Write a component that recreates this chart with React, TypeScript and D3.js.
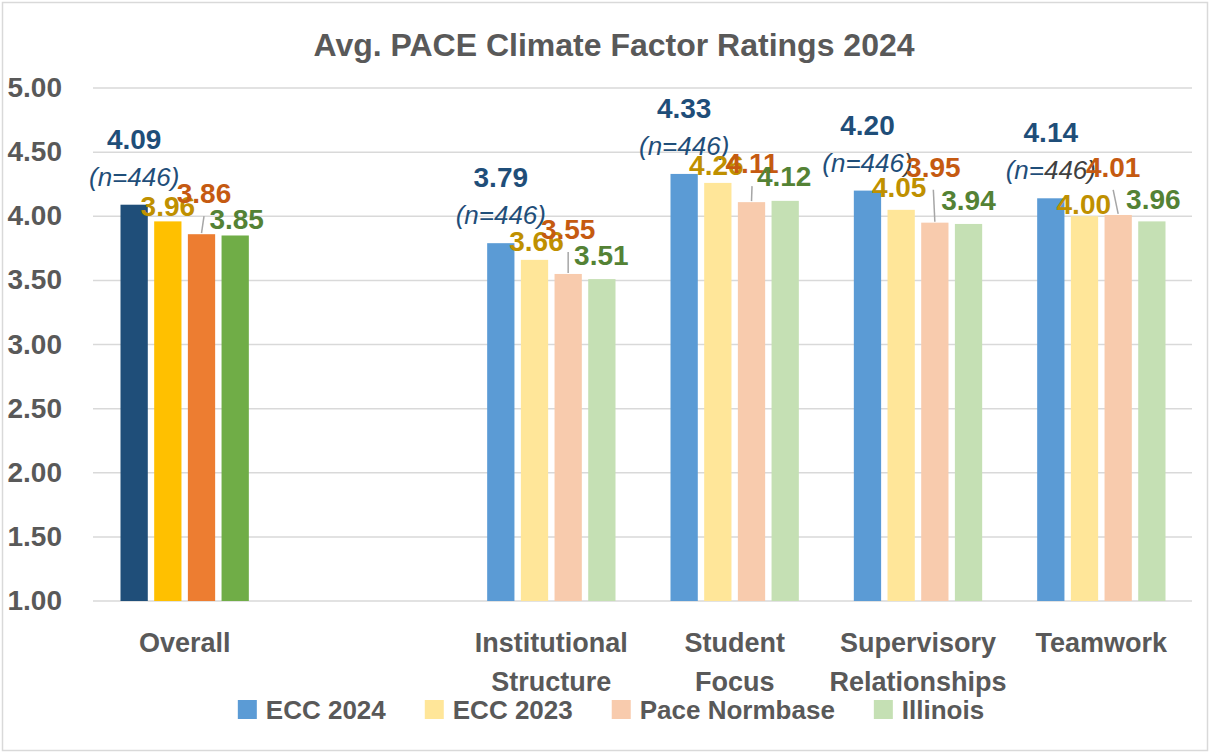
import React from "react";
import * as d3 from "d3";

// chart values
const categories = ["Overall", "", "Institutional Structure", "Student Focus", "Supervisory Relationships", "Teamwork"];
const seriesNames = ["ECC 2024", "ECC 2023", "Pace Normbase", "Illinois"];
const ecc2024 = [4.09, null, 3.79, 4.33, 4.2, 4.14];
const ecc2023 = [3.96, null, 3.66, 4.26, 4.05, 4.0];
const paceNormbase = [3.86, null, 3.55, 4.11, 3.95, 4.01];
const illinois = [3.85, null, 3.51, 4.12, 3.94, 3.96];
const sampleSize = [446, null, 446, 446, 446, 446];
const yTicks = [1, 1.5, 2, 2.5, 3, 3.5, 4, 4.5, 5];

const seriesValues = [ecc2024, ecc2023, paceNormbase, illinois];

// colours: first group is drawn darker than the others
const overallColors = ["#1F4E79", "#FFC000", "#ED7D31", "#70AD47"];
const lightColors = ["#5B9BD5", "#FFE699", "#F8CBAD", "#C5E0B4"];
const labelColors = ["#1F4E79", "#BF9000", "#C55A11", "#548235"];

// manual label placement (dx, rise above bar top), like the hand-moved excel labels
const labelNudge = [
  [[0, 56], null, [0, 56], [0, 56], [0, 56], [0, 56]],
  [[0, 5], null, [2, 9], [-1.5, 8], [-2, 13], [-0.7, 2]],
  [[2.5, 31], null, [0, 35], [0.5, 29], [-1.5, 46], [-5, 38]],
  [[1.5, 6.5], null, [-0.5, 14.5], [-1, 14.7], [0, 14], [1.5, 12.4]],
];

const W = 1210;
const H = 753;
const FONT = "'Liberation Sans', Arial, sans-serif";
const GRAY = "#595959";

const measure = (text: string, font: string) => {
  const ctx = document.createElement("canvas").getContext("2d");
  if (!ctx) return text.length * 14;
  ctx.font = font;
  return ctx.measureText(text).width;
};

export default function App() {
  const left = 93,
    right = 1193,
    top = 88,
    bottom = 601;

  const x0 = d3
    .scaleBand()
    .domain(categories.map((_, i) => String(i)))
    .range([left, right])
    .paddingInner(0.3)
    .paddingOuter(0.15);

  const x1 = d3
    .scaleBand()
    .domain(seriesNames)
    .range([0, x0.bandwidth()])
    .paddingInner(0.19)
    .paddingOuter(0);

  const y = d3.scaleLinear().domain([1, 5]).range([bottom, top]);

  // legend layout
  const legendFont = `bold 26px ${FONT}`;
  const markerSize = 19;
  const items = seriesNames.map((name) => ({ name, w: measure(name, legendFont) }));
  const totalW = items.reduce((a, it) => a + markerSize + 9 + it.w, 0) + 39 * (items.length - 1);
  let lx = 611 - totalW / 2;
  const legendItems = items.map((it) => {
    const pos = lx;
    lx += markerSize + 9 + it.w + 39;
    return { ...it, x: pos };
  });

  const bars: JSX.Element[] = [];
  const labels: JSX.Element[] = [];

  seriesValues.forEach((vals, s) => {
    vals.forEach((v, c) => {
      if (v == null) return;
      const bx = (x0(String(c)) ?? 0) + (x1(seriesNames[s]) ?? 0);
      const bw = x1.bandwidth();
      const by = y(v);
      bars.push(
        <rect
          key={`b${s}-${c}`}
          x={bx}
          y={by}
          width={bw}
          height={bottom - by}
          fill={c === 0 ? overallColors[s] : lightColors[s]}
        />
      );
      const nudge = labelNudge[s][c] || [0, 6];
      const cx = bx + bw / 2 + nudge[0];
      const base = by - nudge[1];
      if (s === 2) {
        labels.push(
          <line
            key={`ll${c}`}
            x1={bx + bw / 2}
            y1={by - 1}
            x2={cx}
            y2={base + 13}
            stroke="#A6A6A6"
            strokeWidth={1.5}
          />
        );
      }
      labels.push(
        <text
          key={`l${s}-${c}`}
          x={cx}
          y={base}
          textAnchor="middle"
          fontSize={28}
          fontWeight="bold"
          fill={labelColors[s]}
        >
          {d3.format(".2f")(v)}
        </text>
      );
      if (s === 0 && sampleSize[c] != null) {
        const n = `(n=${sampleSize[c]})`;
        // some runs in the original are set in dark gray
        let parts: [string, string][] = [[n, labelColors[0]]];
        if (c === 4) parts = [[n.slice(0, -1), labelColors[0]], [")", "#404040"]];
        if (c === 5) parts = [["(n=", labelColors[0]], [n.slice(3), "#404040"]];
        labels.push(
          <text
            key={`n${c}`}
            x={cx}
            y={by - 19}
            textAnchor="middle"
            fontSize={26}
            fontStyle="italic"
          >
            {parts.map((p, i) => (
              <tspan key={i} fill={p[1]}>
                {p[0]}
              </tspan>
            ))}
          </text>
        );
      }
    });
  });

  // n-labels go under the other labels as in excel
  const nLabels = labels.filter((l) => String(l.key).startsWith("n"));
  const otherLabels = labels.filter((l) => !String(l.key).startsWith("n"));

  return (
    <div style={{ position: "absolute", left: 0, top: 0 }}>
      <svg width={W} height={H} fontFamily={FONT} style={{ display: "block", background: "#fff" }}>
        <rect x={2.5} y={2.5} width={W - 5} height={H - 5} fill="#fff" stroke="#D9D9D9" strokeWidth={1.5} />
        <text x={614} y={56} textAnchor="middle" fontSize={32} fontWeight="bold" fill={GRAY}>
          Avg. PACE Climate Factor Ratings 2024
        </text>

        {yTicks.map((t) => (
          <g key={t}>
            <line x1={left} x2={right - 1} y1={y(t)} y2={y(t)} stroke="#D9D9D9" strokeWidth={1.5} />
            <text x={62} y={y(t) + 9} textAnchor="end" fontSize={28} fontWeight="bold" fill={GRAY}>
              {d3.format(".2f")(t)}
            </text>
          </g>
        ))}

        {bars}
        {nLabels}
        {otherLabels}

        {categories.map((cat, i) => {
          const words = cat.split(" ");
          const cx = (x0(String(i)) ?? 0) + x0.bandwidth() / 2;
          return (
            <text key={`c${i}`} x={cx} y={652} textAnchor="middle" fontSize={27} fontWeight="bold" fill={GRAY}>
              {words.map((w, j) => (
                <tspan key={j} x={cx} dy={j === 0 ? 0 : 39}>
                  {w}
                </tspan>
              ))}
            </text>
          );
        })}

        {legendItems.map((it, i) => (
          <g key={it.name}>
            <rect x={it.x} y={700} width={markerSize} height={markerSize} fill={lightColors[i]} />
            <text x={it.x + markerSize + 9} y={719} fontSize={26} fontWeight="bold" fill={GRAY}>
              {it.name}
            </text>
          </g>
        ))}
      </svg>
    </div>
  );
}
